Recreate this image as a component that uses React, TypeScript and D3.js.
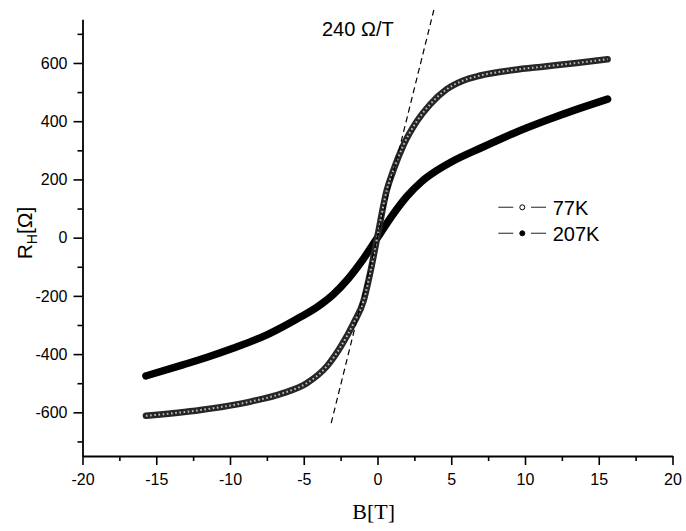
import React, { useEffect, useRef } from "react";
import * as d3 from "d3";

// ---- data ----
const b77 = [-15.7, -12.0, -8.6, -6.4, -4.8, -3.4, -2.5, -1.6, -0.95, -0.5, 0, 0.63, 1.08, 1.76, 2.67, 3.57, 4.7, 5.83, 6.97, 9.22, 11.35, 13.5, 15.6];
const r77 = [-612, -592, -563, -534, -500, -440, -375, -292, -218, -122, 5, 163, 232, 318, 400, 458, 510, 540, 557, 576, 588, 600, 613];
const b207 = [-15.7, -13.2, -11.5, -9.8, -7.5, -5.2, -4.0, -3.0, -2.0, -1.0, 0, 1.0, 2.0, 3.0, 4.0, 5.0, 7.0, 9.2, 11.5, 13.7, 15.6];
const r207 = [-475, -437, -410, -380, -334, -272, -235, -195, -142, -76, 0, 76, 142, 193, 230, 260, 308, 358, 404, 444, 476];
const dashB = [-3.14, 3.82];
const dashR = [-637, 782];
const xMajor = [-20, -15, -10, -5, 0, 5, 10, 15, 20];
const xMinor = [-17.5, -12.5, -7.5, -2.5, 2.5, 7.5, 12.5, 17.5];
const yMajor = [-600, -400, -200, 0, 200, 400, 600];
const yMinor = [-700, -500, -300, -100, 100, 300, 500, 700];
const legendLabels = ["77K", "207K"];
const annotation = "240 Ω/T";

const W = 686;
const H = 531;

export default function App() {
  const xAxisRef = useRef<SVGGElement>(null);
  const yAxisRef = useRef<SVGGElement>(null);

  const x = d3.scaleLinear().domain([-20, 20]).range([82.5, 672.5]);
  const y = d3.scaleLinear().domain([-750, 750]).range([456, 19.3]);

  useEffect(() => {
    const style = (g: any) => {
      g.selectAll("line").attr("stroke", "#000").attr("stroke-width", 1.6);
      g.select(".domain").attr("stroke", "#000").attr("stroke-width", 1.8);
      g.selectAll("text").attr("font-family", "'Liberation Sans', Arial, sans-serif").attr("font-size", 16).attr("fill", "#000");
    };
    const gx = d3.select(xAxisRef.current);
    gx.selectAll("*").remove();
    const ax = d3.axisBottom(x).tickValues(xMajor).tickSize(9).tickSizeOuter(0).tickPadding(9).tickFormat((d: any) => String(d));
    const axMinor = d3.axisBottom(x).tickValues(xMinor).tickSize(5).tickSizeOuter(0).tickFormat(() => "");
    const g1 = gx.append("g").call(ax as any);
    const g2 = gx.append("g").call(axMinor as any);
    g2.select(".domain").remove();
    style(g1);
    style(g2);

    const gy = d3.select(yAxisRef.current);
    gy.selectAll("*").remove();
    const ay = d3.axisLeft(y).tickValues(yMajor).tickSize(9).tickSizeOuter(0).tickPadding(6).tickFormat((d: any) => String(d));
    const ayMinor = d3.axisLeft(y).tickValues(yMinor).tickSize(5).tickSizeOuter(0).tickFormat(() => "");
    const h1 = gy.append("g").call(ay as any);
    const h2 = gy.append("g").call(ayMinor as any);
    h2.select(".domain").remove();
    style(h1);
    style(h2);
  }, []);

  const mk = (bs: number[], rs: number[]) =>
    d3
      .line<number>()
      .x((b) => x(b))
      .y((_, i) => y(rs[i]))
      .curve(d3.curveMonotoneX)(bs) as string;

  const p77 = mk(b77, r77);
  const p207 = mk(b207, r207);
  const pDash = d3
    .line<number>()
    .x((b) => x(b))
    .y((_, i) => y(dashR[i]))(dashB) as string;

  const legY = [207.3, 233.3];

  return (
    <svg width={W} height={H} style={{ position: "absolute", left: 0, top: 0, background: "#fff" }}>
      <rect x={0} y={0} width={W} height={H} fill="#fff" />
      <g ref={xAxisRef} transform={`translate(0,${456})`} />
      <g ref={yAxisRef} transform={`translate(${82.5},0)`} />

      {/* 207K: filled circles forming a solid band */}
      <path d={p207} fill="none" stroke="#000" strokeWidth={7.5} strokeLinecap="round" strokeLinejoin="round" />

      {/* 77K: open circles chain */}
      <path d={p77} fill="none" stroke="#262626" strokeWidth={6.5} strokeLinecap="round" strokeLinejoin="round" />
      <path d={p77} fill="none" stroke="#fff" strokeWidth={2} strokeDasharray="1.6,2.6" strokeLinejoin="round" opacity={0.7} />

      {/* dashed slope line */}
      <path d={pDash} fill="none" stroke="#000" strokeWidth={1.2} strokeDasharray="6,4" />

      <text x={322} y={35.7} fontFamily="'Liberation Sans', Arial, sans-serif" fontSize={20} fill="#000">
        {annotation}
      </text>

      {/* legend */}
      {legendLabels.map((lab, i) => (
        <g key={lab}>
          <line x1={498.3} x2={513.3} y1={legY[i]} y2={legY[i]} stroke="#555" strokeWidth={1.3} />
          <line x1={531} x2={546} y1={legY[i]} y2={legY[i]} stroke="#555" strokeWidth={1.3} />
          <circle cx={522.3} cy={legY[i]} r={2.5} fill={i === 0 ? "#fff" : "#000"} stroke="#000" strokeWidth={1} />
          <text x={552.7} y={legY[i] + 7.3} fontFamily="'Liberation Sans', Arial, sans-serif" fontSize={20} fill="#000">
            {lab}
          </text>
        </g>
      ))}

      {/* axis titles */}
      <text x={373.7} y={519} textAnchor="middle" fontFamily="'Liberation Serif', 'Times New Roman', serif" fontSize={22} fill="#000">
        B[T]
      </text>
      <text transform="translate(32,233) rotate(-90)" textAnchor="middle" fontFamily="'Liberation Sans', Arial, sans-serif" fontSize={21} fill="#000">
        R
        <tspan fontSize={14} dy={5}>H</tspan>
        <tspan dy={-5}>[Ω]</tspan>
      </text>
    </svg>
  );
}
